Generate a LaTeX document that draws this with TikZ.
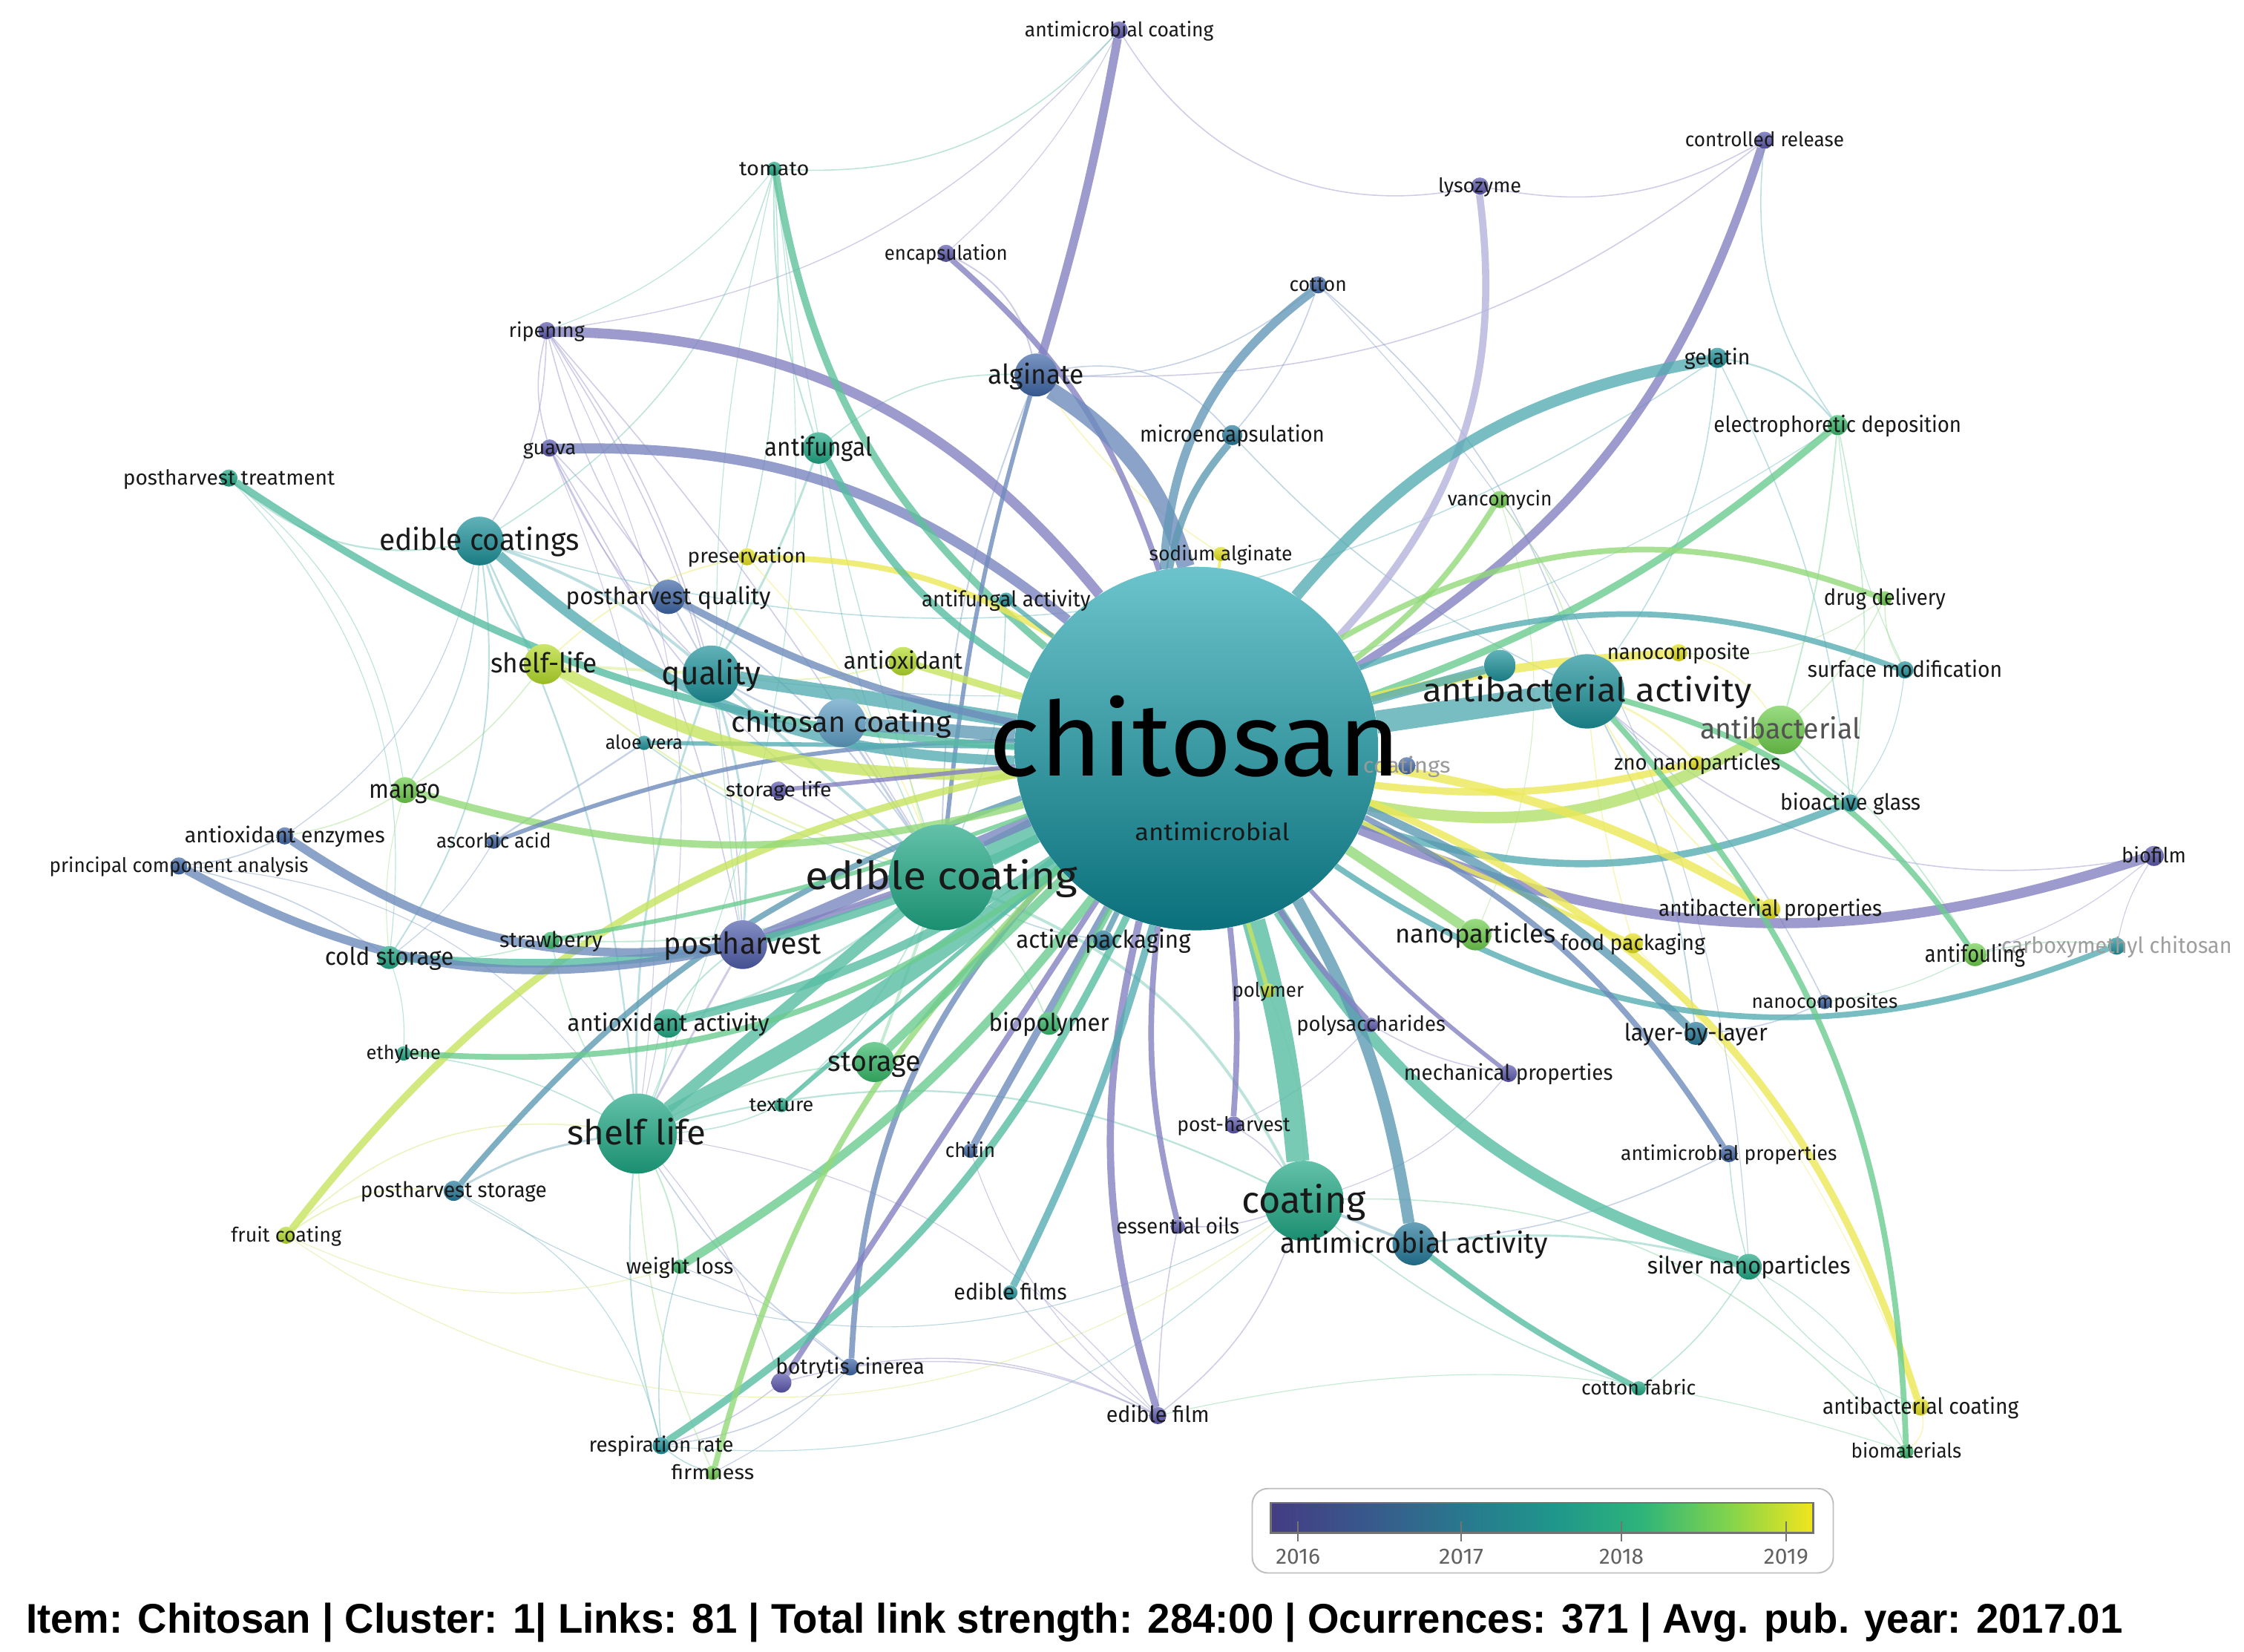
\documentclass[tikz,border=0pt]{standalone}
\usepackage{fontspec}
\setmainfont{Fira Sans}
\newfontfamily\infofont{Liberation Sans}
\usepackage{graphicx}
\usepackage{tikz}
\usetikzlibrary{shadings}
\pgfdeclarelayer{edges}
\pgfdeclarelayer{front}
\pgfsetlayers{edges,main,front}
\definecolor{cP}{HTML}{5B57AE}
\definecolor{cB}{HTML}{3E66A6}
\definecolor{cTB}{HTML}{25799A}
\definecolor{cT}{HTML}{1D9199}
\definecolor{cTG}{HTML}{1FA784}
\definecolor{cG}{HTML}{38B96A}
\definecolor{cLG}{HTML}{6ECD4C}
\definecolor{cYG}{HTML}{B5DB2A}
\definecolor{cY}{HTML}{E4E01C}
\definecolor{cLB}{HTML}{5F9EC4}
\definecolor{chTop}{HTML}{6CC3CB}
\definecolor{chBot}{HTML}{0A707B}
\definecolor{vir0}{HTML}{443C84}
\definecolor{vir1}{HTML}{38598C}
\definecolor{vir2}{HTML}{28798E}
\definecolor{vir3}{HTML}{1F968B}
\definecolor{vir4}{HTML}{2DB37B}
\definecolor{vir5}{HTML}{7FD34E}
\definecolor{vir6}{HTML}{F2E51D}
\pgfdeclarehorizontalshading{viridis}{100bp}{color(0bp)=(vir0); color(25bp)=(vir0); color(34bp)=(vir1); color(43bp)=(vir2); color(51bp)=(vir3); color(59bp)=(vir4); color(67bp)=(vir5); color(75bp)=(vir6); color(100bp)=(vir6)}
\tikzset{
  vnode/.style={circle, inner sep=0pt, outer sep=0pt, draw=none, top color=#1!70!white, bottom color=#1!85!black},
  lbl/.style={anchor=base, inner sep=0pt, outer sep=0pt},
  tedge/.style={opacity=.8},
  thin/.style={opacity=.5}
}
\newcommand\ND[5]{\node[vnode=#5, minimum size=#4*2pt] (#1) at (#2,#3) {};}
\newcommand\LB[5][black!90]{\node[lbl, text=#1, yshift=-0.32*#3pt] (#2-l) at (#2) {\resizebox{#4pt}{\height}{\fontsize{#3}{#3}\selectfont #5}};}
\newcommand\E[5]{\draw[tedge, line width=#3pt, draw=#4!75!white] (#1) to[bend left=#5] (#2);}
\begin{document}
\begin{tikzpicture}[x=1pt,y=-1pt]
\useasboundingbox (0,0) rectangle (1568,1154);
% ---------- nodes ----------
\node[circle, inner sep=0pt, minimum size=254pt, top color=chTop, bottom color=chBot] (C) at (836,523) {};
\ND{ecoating}{658}{613}{37}{cTG}
\ND{slife}{445}{792}{28}{cTG}
\ND{coating}{911}{839}{28}{cTG}
\ND{aact}{1109}{483}{26}{cT}
\ND{quality}{497}{471}{20}{cT}
\ND{ecoatings}{335}{378}{17}{cT}
\ND{ph}{519}{660}{17}{cP!60!cB}
\ND{chcoat}{588}{505}{17}{cLB}
\ND{antibac}{1244}{510}{17}{cLG}
\ND{amact}{988}{869}{15}{cTB}
\ND{storage}{611}{742}{14}{cG}
\ND{slife2}{380}{464}{14}{cYG}
\ND{alginate}{724}{262}{15}{cB}
\ND{phq}{467}{417}{12}{cB}
\ND{nanop}{1031}{653}{11}{cLG}
\ND{antifungal}{572}{313}{11}{cTG}
\ND{antiox}{631}{462}{10}{cYG}
\ND{aoact}{467}{715}{10}{cTG}
\ND{mango}{283}{552}{9}{cLG}
\ND{silver}{1222}{885}{9}{cTG}
\ND{anon}{1048}{465}{11}{cT}
\ND{lbl}{1185}{722}{8}{cTB}
\ND{cold}{272}{669}{8}{cTG}
\ND{biopoly}{733}{715}{8}{cG}
\ND{actpack}{771}{657}{7}{cTB}
\ND{antifoul}{1380}{667}{8}{cLG}
\ND{microenc}{861}{304}{7}{cTB}
\ND{gelatin}{1200}{250}{7}{cT}
\ND{electro}{1284}{297}{7}{cG}
\ND{vanco}{1048}{349}{6}{cLG}
\ND{sodium}{853}{387}{5}{cY}
\ND{cotton}{921}{199}{6}{cB}
\ND{lyso}{1034}{130}{6}{cP}
\ND{ctrl}{1233}{98}{6}{cP}
\ND{amcoat}{782}{21}{6}{cP}
\ND{encap}{661}{177}{6}{cP}
\ND{tomato}{541}{118}{5}{cTG}
\ND{ripen}{382}{231}{6}{cP}
\ND{guava}{384}{313}{6}{cP}
\ND{pht}{160}{334}{6}{cTG}
\ND{preserv}{522}{389}{6}{cY}
\ND{afact}{703}{419}{5}{cT}
\ND{aloe}{450}{519}{5}{cT}
\ND{stlife}{544}{552}{6}{cP}
\ND{aoenz}{199}{584}{6}{cB}
\ND{ascorbic}{345}{588}{5}{cB}
\ND{pca}{125}{605}{6}{cB}
\ND{straw}{385}{657}{6}{cG}
\ND{ethyl}{282}{736}{5}{cTG}
\ND{phstor}{317}{832}{7}{cTB}
\ND{fruit}{200}{863}{6}{cYG}
\ND{weight}{475}{885}{5}{cG}
\ND{resp}{462}{1010}{6}{cT}
\ND{firm}{498}{1029}{5}{cLG}
\ND{botry}{594}{955}{6}{cB}
\ND{bot2}{546}{966}{7}{cP}
\ND{texture}{546}{772}{5}{cTG}
\ND{chitin}{678}{804}{5}{cB}
\ND{efilms}{706}{903}{5}{cT}
\ND{essen}{823}{857}{5}{cP}
\ND{efilm}{809}{989}{6}{cP}
\ND{posth}{862}{786}{6}{cP}
\ND{polymer}{886}{692}{5}{cYG}
\ND{polys}{958}{716}{5}{cP}
\ND{mech}{1054}{750}{6}{cP}
\ND{foodp}{1141}{659}{7}{cY}
\ND{abprops}{1237}{635}{7}{cY}
\ND{ncomps}{1275}{700}{5}{cB}
\ND{amprops}{1208}{806}{6}{cB}
\ND{cotfab}{1145}{970}{5}{cTG}
\ND{abcoat}{1342}{983}{6}{cY}
\ND{biomat}{1332}{1014}{5}{cG}
\ND{carboxy}{1479}{661}{6}{cT}
\ND{biofilm}{1505}{598}{7}{cP}
\ND{bioglass}{1293}{561}{6}{cT}
\ND{zno}{1186}{533}{5}{cY}
\ND{ncomp}{1173}{456}{6}{cY}
\ND{surfmod}{1331}{468}{6}{cT}
\ND{drug}{1317}{418}{5}{cLG}
\ND{coatn}{983}{535}{6}{cB}
\coordinate (antimic) at (847,582);
% ---------- thin edges ----------
\begin{pgfonlayer}{edges}
\foreach \a/\b/\c/\w/\k in {
ripen/guava/cP/0.8/-15, ripen/phq/cP/0.8/-10, ripen/quality/cP/0.8/10, ripen/ecoatings/cP/0.8/15,
ripen/ph/cP/0.8/15, ripen/slife/cP/0.6/20, ripen/ecoating/cP/0.8/5, ripen/amcoat/cP/0.7/-20,
ripen/tomato/cTG/0.6/-15, amcoat/lyso/cP/0.8/-35, amcoat/tomato/cTG/0.8/25, amcoat/encap/cP/0.6/10,
alginate/ctrl/cP/0.8/-20, lyso/ctrl/cP/0.8/-20, encap/alginate/cP/1/25, tomato/quality/cTG/0.8/10,
tomato/ecoatings/cTG/0.8/20, tomato/slife/cTG/0.6/15, tomato/ph/cTG/0.6/-10, tomato/antifungal/cTG/1/-10,
tomato/ecoating/cTG/0.7/-5, guava/ph/cP/0.8/10, guava/quality/cP/0.8/-10, guava/ecoating/cP/0.8/-15,
guava/slife/cP/0.6/15, guava/phq/cP/0.8/5, antifungal/quality/cTG/1.5/5, antifungal/alginate/cTG/0.8/20,
antifungal/ecoating/cTG/0.8/-10, alginate/ecoating/cB/1/-10, alginate/microenc/cB/0.8/30, alginate/cotton/cB/0.8/-20,
cotton/aact/cB/0.8/15, cotton/silver/cB/0.6/20, cotton/microenc/cB/0.8/10, microenc/aact/cTB/0.8/-10,
gelatin/aact/cT/0.8/15, gelatin/electro/cT/1.2/20, gelatin/bioglass/cT/0.8/10, ctrl/electro/cT/0.8/-20,
electro/antibac/cG/1/5, electro/bioglass/cG/0.8/10, electro/surfmod/cG/0.6/-10, drug/surfmod/cLG/0.8/-15,
drug/antibac/cLG/0.8/10, vanco/aact/cLG/0.8/10, vanco/nanop/cLG/0.6/20, biofilm/aact/cP/0.8/25,
biofilm/carboxy/cP/0.6/-10, biofilm/antifoul/cP/0.6/10, antifoul/carboxy/cG/0.8/10, antifoul/antibac/cG/0.8/-10,
antifoul/ncomps/cG/0.6/10, ncomps/lbl/cB/0.8/10, ncomps/aact/cB/0.8/-10, lbl/aact/cTB/1/-10,
abprops/aact/cY/1/10, foodp/aact/cY/0.8/5, zno/aact/cY/1.5/-10, ncomp/antibac/cY/0.8/20,
bioglass/antibac/cT/1.2/10, silver/amact/cTG/1.5/-10, silver/cotfab/cTG/0.8/10, silver/abcoat/cTG/0.6/-15,
silver/biomat/cTG/0.6/20, silver/amprops/cTG/0.8/5, cotfab/coating/cTG/0.8/10, biomat/coating/cG/0.8/-25,
amact/coating/cTB/2/0, amprops/amact/cB/0.8/10, efilm/botry/cP/0.8/-15, efilm/efilms/cP/0.8/10,
efilm/essen/cP/0.8/5, efilm/coating/cP/0.8/-15, efilm/chitin/cP/0.6/15, efilm/bot2/cP/0.8/-20,
essen/coating/cP/0.8/-10, posth/coating/cP/0.8/10, posth/polys/cP/0.6/-10, mech/polys/cP/0.8/10,
mech/coating/cP/0.6/15, polymer/coating/cYG/0.6/10, botry/resp/cB/0.8/15, botry/firm/cB/0.6/10,
botry/weight/cB/0.6/-10, botry/slife/cB/0.8/10, bot2/resp/cP/0.8/10, bot2/slife/cP/0.6/-10,
resp/weight/cT/0.8/10, resp/firm/cT/0.8/-10, resp/slife/cT/1/10, resp/phstor/cT/0.6/-25,
fruit/phstor/cYG/1/20, fruit/slife/cYG/0.8/25, fruit/weight/cYG/0.6/-20, phstor/slife/cTB/1.5/10,
weight/slife/cG/1/-10, firm/slife/cLG/0.8/10, texture/slife/cTG/0.8/10, texture/ecoating/cTG/0.8/-10,
pht/ecoatings/cTG/1.2/-25, pht/mango/cTG/0.6/20, pht/cold/cTG/0.6/25, mango/aoenz/cLG/0.8/10,
mango/slife2/cLG/0.8/-10, mango/cold/cLG/0.6/-10, aoenz/pca/cB/0.8/10, aoenz/ecoatings/cB/0.6/-20,
pca/cold/cB/0.8/10, pca/slife/cB/0.6/25, ascorbic/aloe/cB/1.2/0, ascorbic/cold/cB/0.6/10,
straw/cold/cG/0.8/10, straw/ecoating/cG/1/-10, straw/slife/cG/0.8/-10, ethyl/cold/cTG/0.6/-10,
ethyl/slife/cTG/0.8/10, aoact/ecoating/cTG/1.5/-10, aoact/slife/cTG/1/10, aoact/ph/cTG/1/10,
storage/ecoating/cG/2/0, storage/slife/cG/1/-10, biopoly/ecoating/cG/0.8/-10, actpack/ecoating/cTB/0.8/10,
quality/ecoatings/cT/2/-10, quality/ph/cT/1.5/10, quality/ecoating/cT/2/0, quality/slife/cT/1.5/-10,
ecoatings/slife/cT/1.2/10, ecoatings/slife2/cT/1.5/-10, ecoatings/cold/cT/1/20, ecoatings/mango/cT/0.8/15,
ecoatings/gelatin/cT/0.8/-25, quality/electro/cT/0.6/-20, slife2/quality/cYG/2/0, slife2/ecoating/cYG/1.2/-10,
phq/quality/cB/1/0, phq/ecoating/cB/1/10, preserv/slife2/cY/1/-15, preserv/ecoating/cY/0.8/10,
antiox/ecoating/cYG/1/-10, antiox/quality/cYG/1/10, chcoat/ecoating/cB/1.5/0, chcoat/quality/cB/1.2/10,
aloe/ecoating/cT/0.8/-10, stlife/ecoating/cP/1/0, ph/slife/cP/1.5/0, afact/ecoating/cT/0.8/10,
sodium/alginate/cY/0.8/10, coating/ecoating/cTG/2/-20, coating/slife/cTG/1.2/-20, drug/ncomp/cLG/0.6/20,
surfmod/bioglass/cT/0.6/15, abcoat/biomat/cY/0.8/30, abcoat/foodp/cY/0.6/-10, phstor/coating/cTB/0.6/-30,
resp/coating/cT/0.6/-25, fruit/coating/cYG/0.6/-35, efilm/slife/cP/0.6/-20, biomat/efilm/cG/0.6/-15}
{\draw[thin, line width=\w pt, draw=\c!60!white] (\a) to[bend left=\k] (\b);}
% ---------- main edges ----------
\E{ripen}{C}{7}{cP}{25}
\E{guava}{C}{7}{cP!60!cB}{20}
\E{tomato}{C}{5}{cTG!60!cG}{-20}
\E{encap}{C}{4}{cP}{15}
\E{amcoat}{alginate}{6}{cP}{3}
\E{alginate}{C}{12}{cB}{20}
\E{alginate}{ecoating}{3}{cB}{-5}
\E{cotton}{C}{6}{cB!60!cT}{-25}
\E{microenc}{C}{5}{cTB}{-15}
\E{lyso}{C}{5}{cP!60!white}{25}
\E{ctrl}{C}{6}{cP}{20}
\E{gelatin}{C}{8}{cT}{-20}
\E{electro}{C}{5}{cG}{10}
\E{vanco}{C}{4}{cLG}{10}
\E{drug}{C}{4}{cLG}{-25}
\E{surfmod}{C}{4}{cT}{-20}
\E{ncomp}{C}{6}{cY}{-5}
\E{aact}{C}{16}{cT}{0}
\E{anon}{C}{6}{cT}{0}
\E{antibac}{C}{8}{cYG!60!cLG}{20}
\E{zno}{C}{5}{cY}{10}
\E{bioglass}{C}{5}{cT}{20}
\E{biofilm}{C}{7}{cP}{20}
\E{abprops}{C}{6}{cY}{-10}
\E{abcoat}{C}{5}{cY}{-25}
\E{foodp}{C}{3}{cY}{0}
\E{nanop}{C}{7}{cLG}{0}
\E{antifoul}{aact}{4}{cG}{-20}
\E{carboxy}{C}{4}{cT}{28}
\E{lbl}{C}{6}{cTB}{-10}
\E{amprops}{C}{4}{cB}{-15}
\E{silver}{C}{8}{cTG}{20}
\E{cotfab}{amact}{4}{cTG}{5}
\E{biomat}{aact}{4}{cG}{-20}
\E{amact}{C}{8}{cTB}{-10}
\E{coating}{C}{16}{cTG}{-5}
\E{mech}{C}{3}{cP}{5}
\E{polys}{C}{4}{cP}{5}
\E{polymer}{C}{3}{cYG}{0}
\E{posth}{C}{4}{cP}{-5}
\E{efilm}{C}{5}{cP}{15}
\E{essen}{C}{4}{cP}{10}
\E{efilms}{C}{5}{cT}{-5}
\E{chitin}{C}{5}{cB}{0}
\E{botry}{C}{4}{cB}{20}
\E{bot2}{C}{4}{cP}{0}
\E{resp}{C}{5}{cTG}{-15}
\E{weight}{C}{6}{cG}{-10}
\E{firm}{C}{4}{cLG}{15}
\E{texture}{C}{3}{cTG}{0}
\E{storage}{C}{6}{cG}{0}
\E{biopoly}{C}{4}{cG}{0}
\E{actpack}{C}{4}{cTB}{0}
\E{slife}{C}{12}{cTG}{-5}
\E{slife}{ecoating}{8}{cTG}{0}
\E{ecoating}{C}{18}{cTG}{0}
\E{ph}{C}{8}{cP!50!cB}{0}
\E{ph}{ecoating}{5}{cP}{0}
\E{aoact}{C}{6}{cTG}{-10}
\E{fruit}{C}{5}{cYG}{20}
\E{phstor}{C}{4}{cTB}{15}
\E{ethyl}{C}{4}{cG}{-20}
\E{cold}{C}{6}{cTG}{-15}
\E{pca}{ph}{6}{cB}{-20}
\E{aoenz}{ph}{6}{cB}{-20}
\E{straw}{C}{3}{cG}{-5}
\E{mango}{C}{5}{cLG}{-15}
\E{ascorbic}{C}{3}{cB}{10}
\E{aloe}{C}{3}{cT}{0}
\E{pht}{C}{5}{cTG}{-15}
\E{ecoatings}{C}{7}{cT}{-20}
\E{quality}{C}{10}{cT}{0}
\E{slife2}{C}{8}{cYG}{-15}
\E{phq}{C}{5}{cB}{-8}
\E{chcoat}{C}{9}{cB!50!cT}{0}
\E{antiox}{C}{5}{cYG}{0}
\E{preserv}{C}{4}{cY}{15}
\E{antifungal}{C}{5}{cTG}{-15}
\E{afact}{C}{3}{cT}{0}
\E{sodium}{C}{2}{cY}{0}
\E{stlife}{C}{3}{cP}{0}
\end{pgfonlayer}
% ---------- labels ----------
\begin{pgfonlayer}{front}
\LB[black!40]{coatn}{15}{61}{coatings}
\node[lbl, text=black] (C-l) at (835,542) {\resizebox{288pt}{\height}{\fontsize{72}{72}\selectfont chitosan}};
\LB{antimic}{16.5}{108}{antimicrobial}
\LB{ecoating}{27}{190}{edible coating}
\LB{aact}{23}{230}{antibacterial activity}
\LB{coating}{26}{87}{coating}
\LB{amact}{20}{187}{antimicrobial activity}
\LB{slife}{24}{97}{shelf life}
\LB{ph}{21}{110}{postharvest}
\LB{quality}{23}{69}{quality}
\LB{ecoatings}{21}{140}{edible coatings}
\LB{chcoat}{20}{154}{chitosan coating}
\LB[black!68]{antibac}{20}{112}{antibacterial}
\LB{storage}{20}{65}{storage}
\LB{slife2}{19}{74}{shelf-life}
\LB{alginate}{19}{67}{alginate}
\LB{phq}{16.5}{143}{postharvest quality}
\LB{nanop}{18}{112}{nanoparticles}
\LB{antifungal}{18}{75}{antifungal}
\LB{antiox}{16.5}{83}{antioxidant}
\LB{aoact}{16.5}{141}{antioxidant activity}
\LB{mango}{18}{50}{mango}
\LB{silver}{16.5}{142}{silver nanoparticles}
\LB{lbl}{16.5}{100}{layer-by-layer}
\LB{cold}{17}{90}{cold storage}
\LB{biopoly}{17}{84}{biopolymer}
\LB{actpack}{17}{122}{active packaging}
\LB[black!38]{carboxy}{15.5}{161}{carboxymethyl chitosan}
\LB{antifoul}{16.5}{70}{antifouling}
\LB{microenc}{15.5}{129}{microencapsulation}
\LB{gelatin}{15}{46}{gelatin}
\LB{electro}{15.5}{173}{electrophoretic deposition}
\LB{vanco}{14}{73}{vancomycin}
\LB{sodium}{14}{100}{sodium alginate}
\LB{cotton}{14}{40}{cotton}
\LB{lyso}{14}{58}{lysozyme}
\LB{ctrl}{14}{111}{controlled release}
\LB{amcoat}{14}{132}{antimicrobial coating}
\LB{encap}{14}{86}{encapsulation}
\LB{tomato}{14}{49}{tomato}
\LB{ripen}{14}{53}{ripening}
\LB{guava}{14}{37}{guava}
\LB{pht}{14.5}{148}{postharvest treatment}
\LB{preserv}{14}{83}{preservation}
\LB{afact}{15}{118}{antifungal activity}
\LB{aloe}{13.5}{54}{aloe vera}
\LB{stlife}{14}{74}{storage life}
\LB{aoenz}{15}{140}{antioxidant enzymes}
\LB{ascorbic}{14}{80}{ascorbic acid}
\LB{pca}{14}{181}{principal component analysis}
\LB{straw}{15}{72}{strawberry}
\LB{ethyl}{13.5}{52}{ethylene}
\LB{phstor}{15}{130}{postharvest storage}
\LB{fruit}{14}{77}{fruit coating}
\LB{weight}{15}{75}{weight loss}
\LB{resp}{14.5}{101}{respiration rate}
\LB{firm}{14}{58}{firmness}
\LB{botry}{15}{104}{botrytis cinerea}
\LB{texture}{13.5}{45}{texture}
\LB{chitin}{14}{35}{chitin}
\LB{efilms}{15.5}{79}{edible films}
\LB{essen}{15}{86}{essential oils}
\LB{efilm}{15.5}{72}{edible film}
\LB{posth}{14}{79}{post-harvest}
\LB{polymer}{14}{50}{polymer}
\LB{polys}{14.5}{104}{polysaccharides}
\LB{mech}{15}{146}{mechanical properties}
\LB{foodp}{15}{101}{food packaging}
\LB{abprops}{15.5}{156}{antibacterial properties}
\LB{ncomps}{13.5}{102}{nanocomposites}
\LB{amprops}{14}{151}{antimicrobial properties}
\LB{cotfab}{14}{80}{cotton fabric}
\LB{abcoat}{15.5}{137}{antibacterial coating}
\LB{biomat}{14}{77}{biomaterials}
\LB{biofilm}{14.5}{45}{biofilm}
\LB{bioglass}{15.5}{98}{bioactive glass}
\LB{zno}{15}{116}{zno nanoparticles}
\LB{ncomp}{15}{100}{nanocomposite}
\LB{surfmod}{15.5}{136}{surface modification}
\LB{drug}{15.5}{85}{drug delivery}
% ---------- legend ----------
\node[draw=black!25, line width=1pt, rounded corners=11pt, minimum width=406pt, minimum height=59pt, inner sep=0pt] (legend) at (1078,1069.5) {};
\node[shading=viridis, draw=black!55, line width=1.2pt, minimum width=379pt, minimum height=21pt, inner sep=0pt] (bar) at (1077.5,1060.5) {};
\foreach \t/\xx in {2016/907, 2017/1021, 2018/1133, 2019/1248}{
  \coordinate (tk\t a) at (\xx,1063);
  \coordinate (tk\t b) at (\xx,1077);
  \draw[black!55, line width=0.9pt] (tk\t a) -- (tk\t b);
  \node[anchor=base, inner sep=0pt, text=black!62] (yr\t) at (\xx,1093) {\resizebox{31pt}{\height}{\fontsize{15.5}{15.5}\selectfont \t}};
}
% ---------- info line ----------
\node[anchor=base west, inner sep=0pt] (info) at (18,1141) {\resizebox{1465pt}{\height}{\infofont\bfseries\fontsize{29}{29}\selectfont Item: Chitosan | Cluster: 1| Links: 81 | Total link strength: 284:00 | Ocurrences: 371 | Avg. pub. year: 2017.01}};
\end{pgfonlayer}
\end{tikzpicture}
\end{document}
